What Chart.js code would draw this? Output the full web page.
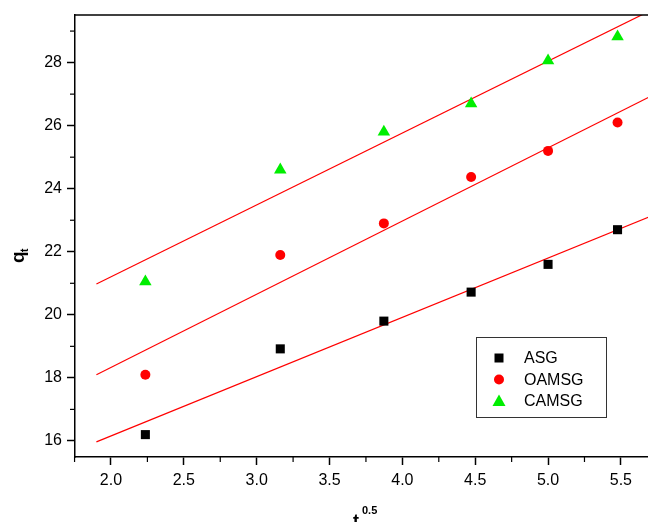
<!DOCTYPE html>
<html>
<head>
<meta charset="utf-8">
<script src="https://cdn.jsdelivr.net/npm/chart.js@4"></script>
<style>
    html, body { margin: 0; padding: 0; background: #fff; }
    #wrap { width: 648px; height: 522px; }
</style>
</head>
<body>
<div id="wrap"><canvas id="chart" width="648" height="522"></canvas></div>
<script>
// 데이터 (t^0.5 기준)
const tSqrt = [2.236, 3.162, 3.873, 4.472, 5.0, 5.477];
const asg = [16.2, 18.92, 19.8, 20.72, 21.6, 22.7];
const oamsg = [18.1, 21.9, 22.9, 24.37, 25.2, 26.1];
const camsg = [21.05, 24.6, 25.8, 26.7, 28.06, 28.82];

// 직선 피팅 선 (양 끝점)
const fitX = [1.9, 5.69];
const asgFit = [15.97, 23.1];
const oamsgFit = [18.1, 26.9];
const camsgFit = [20.98, 29.62];

// 축 눈금
const xMajor = [2.0, 2.5, 3.0, 3.5, 4.0, 4.5, 5.0, 5.5];
const xMinor = [1.75, 2.25, 2.75, 3.25, 3.75, 4.25, 4.75, 5.25];
const yMajor = [16, 18, 20, 22, 24, 26, 28];
const yMinor = [17, 19, 21, 23, 25, 27, 29];

const seriesNames = ['ASG', 'OAMSG', 'CAMSG'];
const seriesColors = ['#000000', '#ff0000', '#00ee00'];
const seriesShapes = ['rect', 'circle', 'triangle'];

function toPoints(xs, ys) {
    return xs.map((x, i) => ({ x: x, y: ys[i] }));
}

function fitLine(ys) {
    return {
        type: 'line',
        data: toPoints(fitX, ys),
        borderColor: '#ff0000',
        borderWidth: 1.2,
        pointRadius: 0,
        fill: false,
        order: 5
    };
}

// 도형 그리기
function drawShape(ctx, shape, x, y, color) {
    ctx.fillStyle = color;
    ctx.beginPath();
    if (shape === 'rect') {
        ctx.rect(x - 4.5, y - 4.5, 9, 9);
    } else if (shape === 'circle') {
        ctx.arc(x, y, 5, 0, Math.PI * 2);
    } else {
        ctx.moveTo(x, y - 6.5);
        ctx.lineTo(x + 6.5, y + 5);
        ctx.lineTo(x - 6.5, y + 5);
        ctx.closePath();
    }
    ctx.fill();
}

// 보조 눈금, 위쪽 테두리, 축 제목, 범례
const decorPlugin = {
    id: 'decor',
    afterDraw(chart) {
        const ctx = chart.ctx;
        const area = chart.chartArea;
        const xs = chart.scales.x;
        const ys = chart.scales.y;
        ctx.save();
        ctx.strokeStyle = '#000';
        ctx.lineWidth = 1.5;

        // 위쪽 테두리
        ctx.beginPath();
        ctx.moveTo(area.left, area.top);
        ctx.lineTo(area.right, area.top);
        ctx.stroke();

        // 보조 눈금
        ctx.lineWidth = 1.2;
        xMinor.forEach(v => {
            const px = xs.getPixelForValue(v);
            ctx.beginPath();
            ctx.moveTo(px, area.bottom);
            ctx.lineTo(px, area.bottom + 5);
            ctx.stroke();
        });
        yMinor.forEach(v => {
            const py = ys.getPixelForValue(v);
            if (py < area.top) return;
            ctx.beginPath();
            ctx.moveTo(area.left, py);
            ctx.lineTo(area.left - 5, py);
            ctx.stroke();
        });

        // 축 제목
        ctx.fillStyle = '#000';
        ctx.textBaseline = 'alphabetic';
        ctx.textAlign = 'left';
        ctx.font = 'bold 18px "Liberation Sans", Arial, sans-serif';
        ctx.fillText('t', 353, 527);
        ctx.font = 'bold 11px "Liberation Sans", Arial, sans-serif';
        ctx.fillText('0.5', 362, 514);

        ctx.save();
        ctx.translate(24, 263);
        ctx.rotate(-Math.PI / 2);
        ctx.font = 'bold 19px "Liberation Sans", Arial, sans-serif';
        ctx.fillText('q', 0, 0);
        ctx.font = 'bold 10px "Liberation Sans", Arial, sans-serif';
        ctx.fillText('t', 11, 4);
        ctx.restore();

        // 범례
        ctx.lineWidth = 1;
        ctx.strokeStyle = '#333';
        ctx.strokeRect(476.5, 337.5, 130, 80);
        ctx.font = '16px "Liberation Sans", Arial, sans-serif';
        ctx.textBaseline = 'middle';
        seriesNames.forEach((name, i) => {
            const cy = 358 + i * 21.5;
            drawShape(ctx, seriesShapes[i], 499, cy, seriesColors[i]);
            ctx.fillStyle = '#000';
            ctx.fillText(name, 524, cy + 1);
        });
        ctx.restore();
    }
};

const ctx = document.getElementById('chart').getContext('2d');
new Chart(ctx, {
    type: 'scatter',
    data: {
        datasets: [
            {
                label: seriesNames[0],
                data: toPoints(tSqrt, asg),
                backgroundColor: seriesColors[0],
                borderWidth: 0,
                pointStyle: 'rect',
                pointRadius: 6.4,
                order: 1
            },
            {
                label: seriesNames[1],
                data: toPoints(tSqrt, oamsg),
                backgroundColor: seriesColors[1],
                borderWidth: 0,
                pointStyle: 'circle',
                pointRadius: 5,
                order: 1
            },
            {
                label: seriesNames[2],
                data: toPoints(tSqrt, camsg),
                backgroundColor: seriesColors[2],
                borderWidth: 0,
                pointStyle: 'triangle',
                pointRadius: 7.2,
                order: 1
            },
            fitLine(asgFit),
            fitLine(oamsgFit),
            fitLine(camsgFit)
        ]
    },
    options: {
        responsive: false,
        animation: false,
        layout: { autoPadding: false, padding: { top: 15, right: 0, left: 0, bottom: 0 } },
        plugins: {
            legend: { display: false },
            tooltip: { enabled: false }
        },
        scales: {
            x: {
                type: 'linear',
                min: 1.753,
                max: 5.686,
                afterBuildTicks: scale => {
                    scale.ticks = xMajor.map(v => ({ value: v }));
                },
                afterFit: scale => {
                    scale.height = 65;
                    scale.paddingLeft = 0;
                    scale.paddingRight = 0;
                },
                ticks: {
                    color: '#000',
                    font: { family: '"Liberation Sans", Arial, sans-serif', size: 16 },
                    padding: 6,
                    maxRotation: 0,
                    callback: v => v.toFixed(1)
                },
                grid: { drawOnChartArea: false, tickLength: 8, tickWidth: 1.5, tickColor: '#000' },
                border: { display: true, color: '#000', width: 1.5 }
            },
            y: {
                type: 'linear',
                min: 15.49,
                max: 29.51,
                afterBuildTicks: scale => {
                    scale.ticks = yMajor.map(v => ({ value: v }));
                },
                afterFit: scale => {
                    scale.width = 75;
                    scale.paddingTop = 0;
                    scale.paddingBottom = 0;
                },
                ticks: {
                    color: '#000',
                    font: { family: '"Liberation Sans", Arial, sans-serif', size: 16 },
                    padding: 5,
                    callback: v => String(v)
                },
                grid: { drawOnChartArea: false, tickLength: 8, tickWidth: 1.5, tickColor: '#000' },
                border: { display: true, color: '#000', width: 1.5 }
            }
        }
    },
    plugins: [decorPlugin]
});
</script>
</body>
</html>
